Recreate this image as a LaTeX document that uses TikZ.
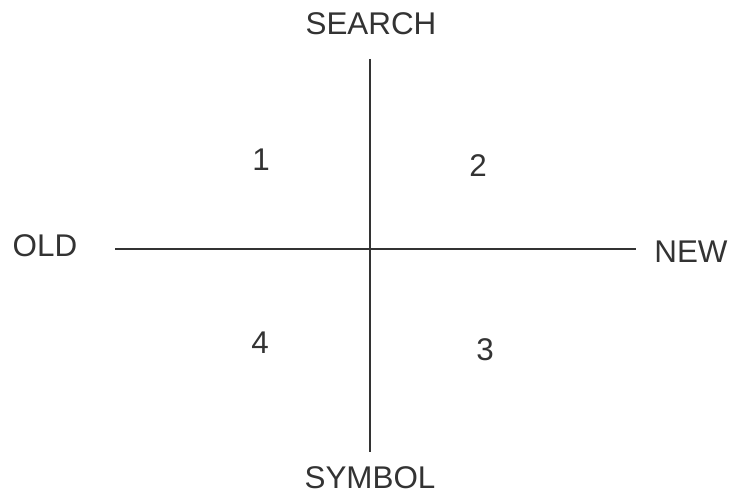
\documentclass[tikz,border=0pt]{standalone}
\usepackage{fontspec}
\setmainfont{Liberation Sans}
\usepackage{tikz}
\usetikzlibrary{positioning}
\definecolor{ink}{HTML}{333333}

\begin{document}
\begin{tikzpicture}[x=1bp, y=-1bp, every node/.style={font=\fontsize{31.5}{36}\selectfont, text=ink, inner sep=0pt}]
  \useasboundingbox (0,0) rectangle (731,496);
  % axis labels
  \node (search) at (371,24) {SEARCH};
  \node (symbol) at (370,478) {SYMBOL};
  \node (old) at (45,246) {OLD};
  \node (new) at (691,252) {NEW};
  % axes
  \coordinate (top) at (370,59);
  \coordinate (bottom) at (370,452);
  \coordinate (left) at (115,249);
  \coordinate (right) at (636,249);
  \draw[ink, line width=1.3bp] (top) -- (bottom);
  \draw[ink, line width=1.3bp] (left) -- (right);
  % quadrants
  \foreach \x/\y/\n in {261/160/1, 478/166/2, 485/350/3, 260/343/4}{
    \node (q\n) at (\x,\y) {\n};}
\end{tikzpicture}
\end{document}
